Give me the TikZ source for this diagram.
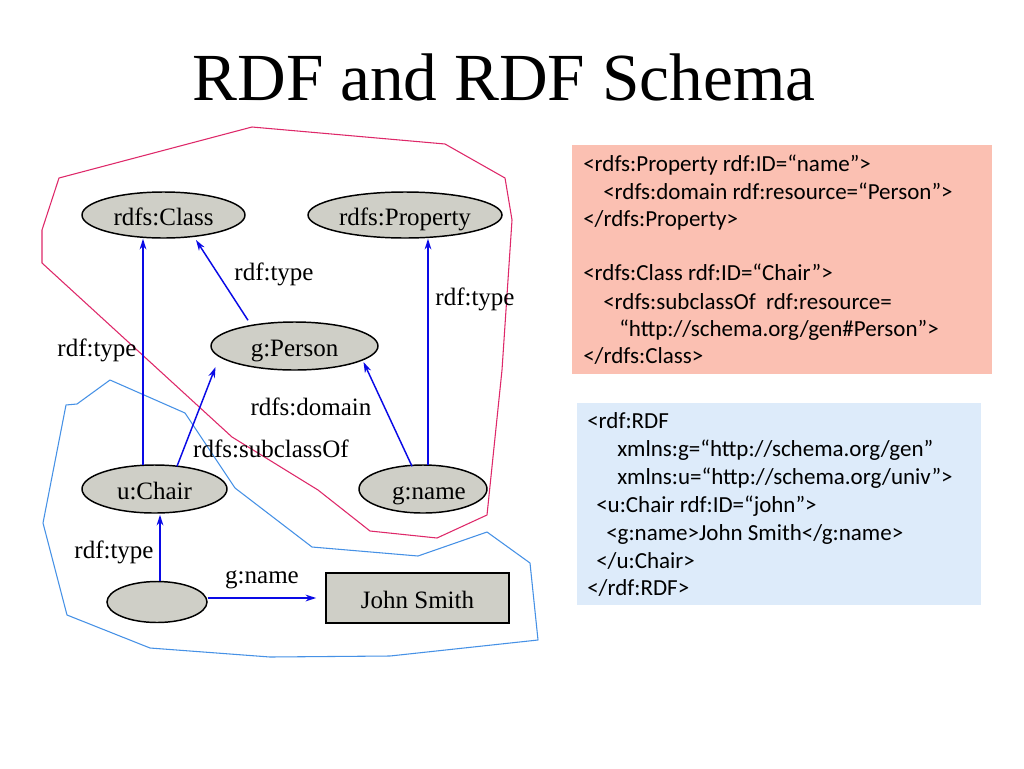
\documentclass[tikz,border=0pt]{standalone}
\usepackage{fontspec}
\setmainfont{Liberation Serif}
\newfontfamily\codefont{Carlito}
\usetikzlibrary{arrows.meta,shapes.geometric}
\definecolor{nodegray}{RGB}{207,207,199}
\definecolor{arrblue}{RGB}{10,10,230}
\definecolor{hullpink}{RGB}{222,40,105}
\definecolor{hullblue}{RGB}{70,145,230}
\definecolor{pinkbg}{RGB}{251,192,178}
\definecolor{bluebg}{RGB}{221,235,250}
\tikzset{
  ell/.style={ellipse, draw=black, line width=1.1pt, fill=nodegray, inner sep=0pt,
    text height=15.5pt, text depth=0pt,
    font=\fontsize{18.75}{22}\selectfont},
  lit/.style={rectangle, draw=black, line width=1.1pt, fill=nodegray, inner sep=0pt,
    text height=15pt, text depth=0pt,
    font=\fontsize{18.75}{22}\selectfont},
  arr/.style={draw=arrblue, line width=1.1pt, -{Stealth[length=8pt,width=5pt,inset=2.5pt]}},
  lbl/.style={anchor=base, inner sep=0pt, font=\fontsize{18.75}{22}\selectfont},
  codeln/.style={anchor=base west, inner sep=0pt, font=\codefont\fontsize{17.25}{21}\selectfont},
  hull/.style={line width=0.8pt, line join=round}
}
\begin{document}
\begin{tikzpicture}[x=0.75pt,y=-0.75pt]
\useasboundingbox (0,0) rectangle (1024,768);
\fill[white] (0,0) rectangle (1024,768);

% title
\node[anchor=base, inner sep=0pt, font=\fontsize{50.5}{60}\selectfont] (title) at (504,100) {RDF and RDF Schema};

% hulls
\draw[hull, draw=hullpink] (59,178) -- (252,127) -- (445,144) -- (505,178) -- (512,220)
  -- (502,370) -- (487,515) -- (437,538) -- (370,531) -- (318,490) -- (232,437)
  -- (42,263) -- (42,230) -- cycle;
\draw[hull, draw=hullblue] (110,380) -- (185,413) -- (235,488) -- (312,547) -- (418,556)
  -- (487,532) -- (530,563) -- (538,640) -- (390,656) -- (270,657) -- (150,648)
  -- (67,615) -- (43,523) -- (66,405) -- (77,404) -- cycle;

% nodes
\node[ell, minimum width=122.25pt, minimum height=34.5pt] (rc) at (163.5,215) {rdfs:Class};
\node[ell, minimum width=145.5pt, minimum height=34.5pt] (rp) at (405,215) {rdfs:Property};
\node[ell, minimum width=125.25pt, minimum height=36pt] (gp) at (294.5,346) {g:Person};
\node[ell, minimum width=108.75pt, minimum height=36pt] (uc) at (154.5,489) {u:Chair};
\node[ell, minimum width=96pt, minimum height=36pt] (gn) at (423,489) {\hspace*{9pt}g:name};
\node[ell, minimum width=75pt, minimum height=30.75pt] (bl) at (157,602) {};
\node[lit, minimum width=137.25pt, minimum height=37.5pt] (js) at (417.5,598) {John Smith};

% connectors
\draw[arr] ([shift={(-11.5,1)}]uc.north) -- ([shift={(-20.5,0)}]rc.south);
\draw[arr] ([shift={(22.5,2)}]uc.north) -- ([shift={(-79,21)}]gp.center);
\draw[arr] ([shift={(-46.5,-1)}]gp.north) -- ([shift={(32.5,25)}]rc.center);
\draw[arr] ([shift={(-11,2)}]gn.north) -- ([shift={(69,16)}]gp.center);
\draw[arr] ([shift={(5,1)}]gn.north) -- ([shift={(23,0)}]rp.south);
\draw[arr] ([shift={(3,0)}]bl.north) -- ([shift={(5.5,1)}]uc.south);
\draw[arr] ([shift={(0,-4)}]bl.east) -- ([shift={(-9,0)}]js.west);

% edge labels
\node[lbl] (l1) at (274,280) {rdf:type};
\node[lbl] (l2) at (475,305) {rdf:type};
\node[lbl] (l3) at (97,356) {rdf:type};
\node[lbl] (l4) at (311,415) {rdfs:domain};
\node[lbl] (l5) at (271,457) {rdfs:subclassOf};
\node[lbl] (l6) at (114,558) {rdf:type};
\node[lbl] (l7) at (262,583) {g:name};

% code boxes
\fill[pinkbg] (572,145) rectangle (992,374);
\node[codeln] (p1) at (583,171) {<rdfs:Property rdf:ID=“name”>};
\node[codeln] (p2) at (603,199) {<rdfs:domain rdf:resource=“Person”>};
\node[codeln] (p3) at (583,226) {</rdfs:Property>};
\node[codeln] (p5) at (583,280) {<rdfs:Class rdf:ID=“Chair”>};
\node[codeln] (p6) at (603,309) {<rdfs:subclassOf\ \ rdf:resource=};
\node[codeln] (p7) at (619,336) {“http://schema.org/gen\#Person”>};
\node[codeln] (p8) at (583,363) {</rdfs:Class>};

\fill[bluebg] (577,403) rectangle (981,605);
\node[codeln] (b1) at (587,428) {<rdf:RDF};
\node[codeln] (b2) at (617,456) {xmlns:g=“http://schema.org/gen”};
\node[codeln] (b3) at (617,484) {xmlns:u=“http://schema.org/univ”>};
\node[codeln] (b4) at (596,512) {<u:Chair rdf:ID=“john”>};
\node[codeln] (b5) at (606,540) {<g:name>John Smith</g:name>};
\node[codeln] (b6) at (596,568) {</u:Chair>};
\node[codeln] (b7) at (587,595) {</rdf:RDF>};
\end{tikzpicture}
\end{document}
